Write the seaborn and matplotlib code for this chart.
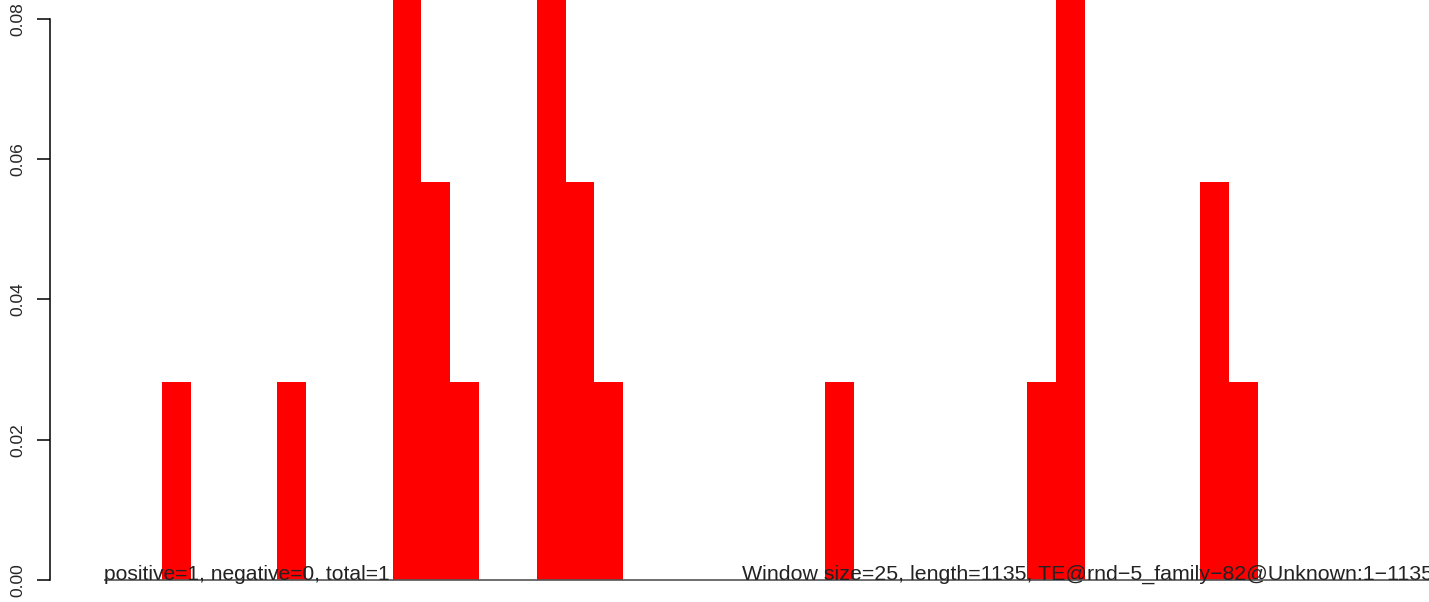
import numpy as np
import pandas as pd
import seaborn as sns
import matplotlib.pyplot as plt

# window index (25 bp windows) and score per window
windows = [2, 6, 10, 11, 12, 15, 16, 17, 25, 32, 33, 38, 39]
scores = [0.0283, 0.0283, 0.085, 0.0567, 0.0283, 0.085, 0.0567, 0.0283,
          0.0283, 0.0283, 0.085, 0.0567, 0.0283]
n_windows = 46
y_ticks = [0.00, 0.02, 0.04, 0.06, 0.08]
left_label = "positive=1, negative=0, total=1"
right_label = "Window size=25, length=1135, TE@rnd\u22125_family\u221282@Unknown:1\u22121135"

df = pd.DataFrame({'window': windows, 'score': scores})

sns.set_style('white')
plt.rcParams['font.family'] = ['Liberation Sans', 'DejaVu Sans']

W, H = 1429, 602
fig = plt.figure(figsize=(W / 100, H / 100), dpi=100)
ax = fig.add_axes([50 / W, 22 / H, (W - 50) / W, 580 / H])

sns.histplot(data=df, x='window', weights='score', binwidth=1, binrange=(0, n_windows),
             color='red', alpha=1, linewidth=0, ax=ax)

# pixel mapping: data 0 at x=104px, one window = 28.85px
bw = 28.85
ax.set_xlim(-54 / bw, (W - 104) / bw)
ax.set_ylim(0, 580 / ((580 - 19) / 0.08))

ax.plot([0, n_windows], [0, 0], color='#555555', lw=1.2, solid_capstyle='butt',
        zorder=5, clip_on=False)

for s in ['top', 'right', 'bottom']:
    ax.spines[s].set_visible(False)
ax.spines['left'].set_bounds(0, 0.08)
ax.spines['left'].set_color('black')
ax.spines['left'].set_linewidth(1.1)

ax.set_xticks([])
ax.set_yticks(y_ticks)
ax.set_yticklabels([f"{v:.2f}" for v in y_ticks], rotation=90, va='center', fontsize=12.5)
ax.tick_params(axis='y', left=True, length=9.5, width=1.1, pad=8, color='black')
ax.set_xlabel('')
ax.set_ylabel('')

ax.text(0, 0, left_label, fontsize=15.1, va='baseline', ha='left', color='#222222', zorder=6)
ax.text(n_windows + 0.05, 0, right_label, fontsize=15.4, va='baseline', ha='right',
        color='#222222', zorder=6, clip_on=False)

fig.savefig('out.png', dpi=100)
